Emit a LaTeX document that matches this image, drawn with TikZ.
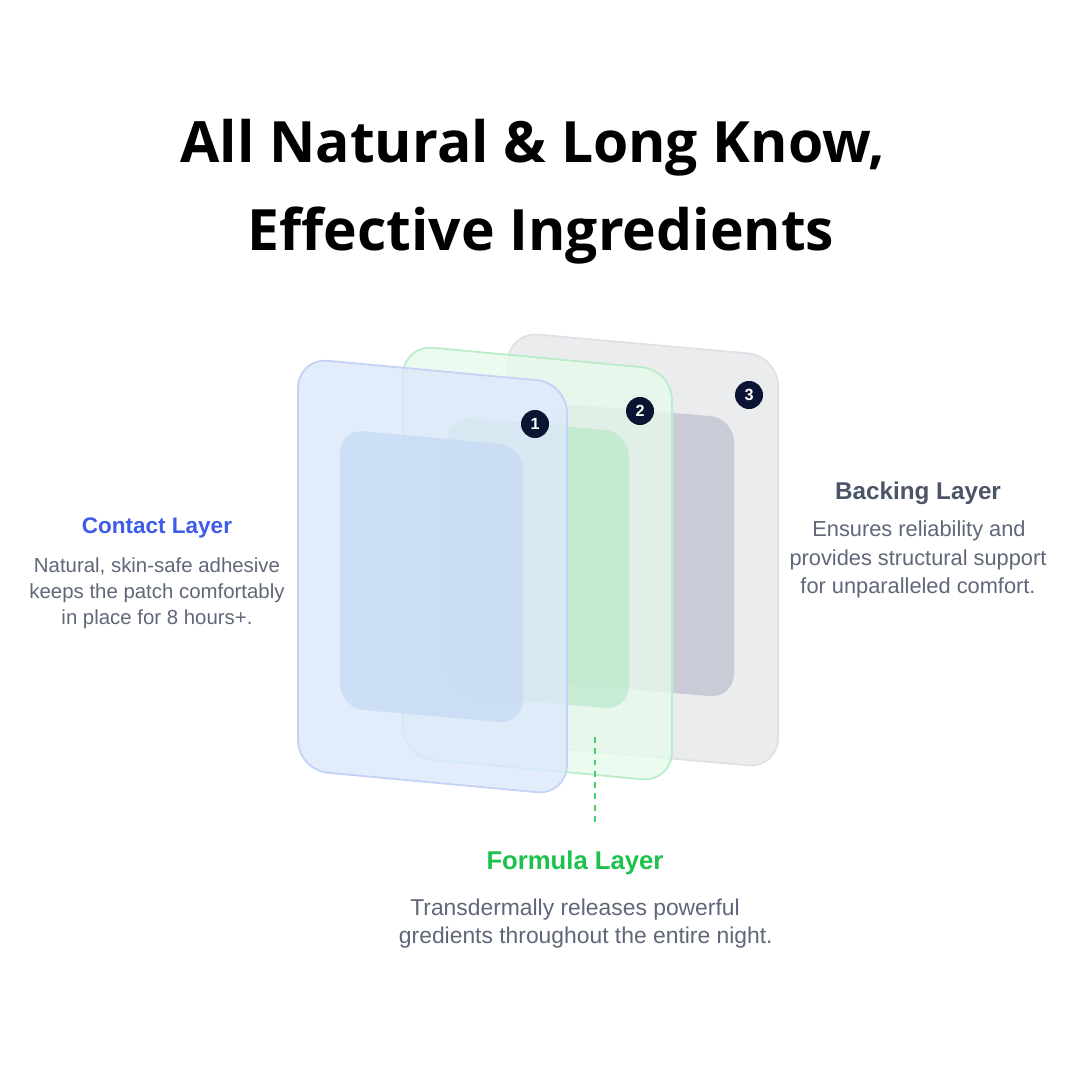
\documentclass[tikz,border=0pt]{standalone}
\usepackage{fontspec}
\setmainfont{Liberation Sans}
\newfontfamily\titlefont{Open Sans}
\usetikzlibrary{positioning}

\definecolor{navy}{HTML}{0B1533}
\definecolor{contactblue}{HTML}{3F5BEA}
\definecolor{formulagreen}{HTML}{1CC24C}
\definecolor{backingslate}{HTML}{4B5567}
\definecolor{bodygray}{HTML}{5F6779}
\definecolor{backfill}{HTML}{EBECEE}
\definecolor{backline}{HTML}{DFE1E5}
\definecolor{backpad}{HTML}{C9CCD6}
\definecolor{formfill}{HTML}{E6FAEC}
\definecolor{formline}{HTML}{B9EDC8}
\definecolor{formpad}{HTML}{BDE8CC}
\definecolor{contfill}{HTML}{DCE8FB}
\definecolor{contline}{HTML}{C3D2F6}
\definecolor{contpad}{HTML}{C6DAF6}

\begin{document}
\begin{tikzpicture}[
			x=0.01cm, y=-0.01cm,
			card/.style={rounded corners=0.3cm, line width=0.5pt},
			pad/.style={rounded corners=0.24cm},
			badge/.style={circle, fill=navy, text=white, inner sep=0pt, minimum size=0.28cm, font=\bfseries\fontsize{4.6}{5}\selectfont},
			head/.style={anchor=base, font=\bfseries\fontsize{#1}{8}\selectfont},
			head/.default=6.4,
			body/.style={anchor=base, text=bodygray, font=\fontsize{#1}{7}\selectfont},
			body/.default=5.8,
			title/.style={anchor=base, font=\titlefont\bfseries\fontsize{16.2}{20}\selectfont},
			leader/.style={formulagreen!80, line width=0.6pt, dash pattern=on 1.7pt off 1.5pt}
			]
			\useasboundingbox[fill=white] (0,0) rectangle (1080,1080);
			% title
			\node[title] (t1) at (533,163) {All Natural \& Long Know,};
			\node[title] (t2) at (541,251) {Effective Ingredients};
			% backing layer
			\filldraw[card, fill=backfill, draw=backline] (508,332) -- (778,356) -- (778,768) -- (508,744) -- cycle;
			\fill[pad, backpad] (552,403) -- (734,418) -- (734,698) -- (552,683) -- cycle;
			% formula layer
			\filldraw[card, fill=formfill, fill opacity=0.8, draw=formline] (403,345) -- (672,370) -- (672,782) -- (403,757) -- cycle;
			\fill[pad, formpad, fill opacity=0.75] (447,416) -- (629,432) -- (629,710) -- (447,694) -- cycle;
			% contact layer
			\filldraw[card, fill=contfill, fill opacity=0.8, draw=contline] (298,358) -- (567,383) -- (567,795) -- (298,770) -- cycle;
			\fill[pad, contpad, fill opacity=0.75] (340,429) -- (523,446) -- (523,724) -- (340,708) -- cycle;
			% badges
			\node[badge] (b1) at (535,424) {1};
			\node[badge] (b2) at (640,411) {2};
			\node[badge] (b3) at (749,395) {3};
			% labels
			\node[head, text=contactblue] (contact) at (157,533) {Contact Layer};
			\node[body] (c1) at (157,572) {Natural, skin-safe adhesive};
			\node[body] (c2) at (157,598) {keeps the patch comfortably};
			\node[body] (c3) at (157,624) {in place for 8 hours+.};
			\node[head=6.9, text=backingslate] (backing) at (918,499) {Backing Layer};
			\node[body=6.2] (k1) at (919,537) {Ensures reliability and};
			\node[body=6.2] (k2) at (918,565) {provides structural support};
			\node[body=6.2] (k3) at (918,593) {for unparalleled comfort.};
			\node[head=7.3, text=formulagreen] (formula) at (575,869) {Formula Layer};
			\node[body=6.5] (f1) at (575,915) {Transdermally releases powerful};
			\node[body=6.5, anchor=base east] (f2) at (785,943) {gredients throughout the entire night.};
			% leader to formula label
			\coordinate (lead) at (595,737);
			\coordinate (leadend) at (595,825);
			\draw[leader] (lead) -- (leadend);
		\end{tikzpicture}
\end{document}
